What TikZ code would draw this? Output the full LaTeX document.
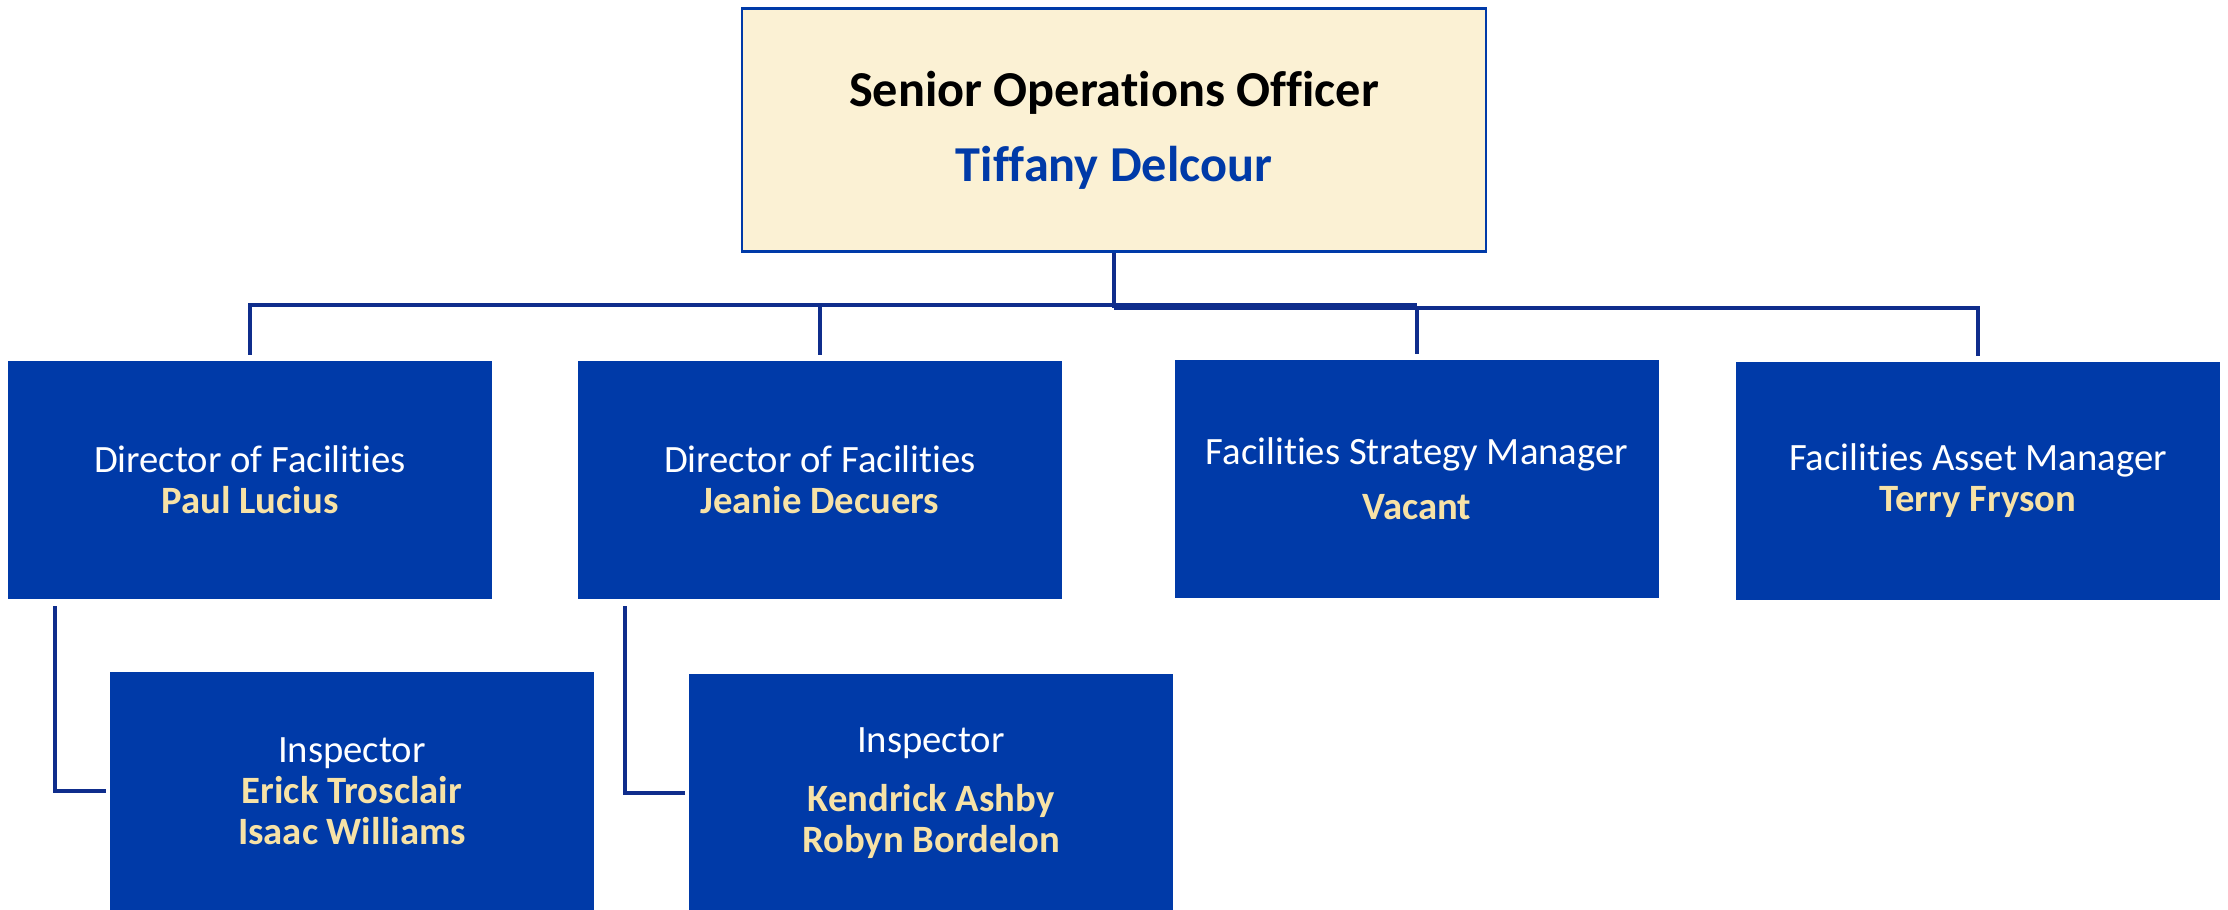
\documentclass[tikz,border=0pt]{standalone}
\usepackage{fontspec}
\setmainfont{Carlito}[RawFeature=-liga]
\usepackage{xcolor}
\usetikzlibrary{calc, positioning}

\definecolor{orgblue}{HTML}{003AA8}
\definecolor{namecream}{HTML}{F7E2A6}
\definecolor{topfill}{HTML}{FBF1D4}
\definecolor{linkblue}{HTML}{0F2D8C}

\tikzset{
    topbox/.style={draw=orgblue, line width=0.7pt, fill=topfill, minimum width=7.44cm, minimum height=2.43cm, align=center, inner sep=0pt},
    unitbox/.style={fill=orgblue, text=white, minimum width=4.83cm, minimum height=2.37cm, align=center, inner sep=0pt, font=\fontsize{11}{11.7}\selectfont},
    link/.style={draw=linkblue, line width=1.1pt}
}

\begin{document}
\begin{tikzpicture}[x=0.01cm, y=-0.01cm]
    \useasboundingbox (0,0) rectangle (2228,909);
    % Top of the chart
    \node[topbox] (top) at (1114,130) {\fontsize{14.3}{17}\selectfont\bfseries Senior Operations Officer\\[8pt]
        \fontsize{14.3}{17}\selectfont\bfseries\color{orgblue} Tiffany Delcour};
    % Second level
    \node[unitbox] (d1) at (250,480) {Director of Facilities\\ \textbf{\color{namecream}Paul Lucius}};
    \node[unitbox] (d2) at (820,480) {Director of Facilities\\ \textbf{\color{namecream}Jeanie Decuers}};
    \node[unitbox] (d3) at (1417,479) {Facilities Strategy Manager\\[4pt] \textbf{\color{namecream}Vacant}};
    \node[unitbox] (d4) at (1978,481) {Facilities Asset Manager\\ \textbf{\color{namecream}Terry Fryson}};
    % Third level
    \node[unitbox] (i1) at (352,791) {Inspector\\ \textbf{\color{namecream}Erick Trosclair}\\ \textbf{\color{namecream}Isaac Williams}};
    \node[unitbox] (i2) at (931,793) {Inspector\\[5pt] \textbf{\color{namecream}Kendrick Ashby}\\ \textbf{\color{namecream}Robyn Bordelon}};
    % Bus lines
    \coordinate (busL) at (1114,305);
    \coordinate (busR) at (1114,308);
    \draw[link] (top.south) -- (busR);
    \draw[link, shorten >=0.06cm] (busL) -| (d1.north);
    \draw[link, shorten >=0.06cm] (busL) -| (d2.north);
    \draw[link] (busL) -- (d3.north |- busL);
    \draw[link, shorten >=0.06cm] (busR) -| (d3.north);
    \draw[link, shorten >=0.06cm] (busR) -| (d4.north);
    % Inspectors
    \draw[link, shorten <=0.07cm, shorten >=0.04cm] ([xshift=0.47cm]d1.south west) |- (i1.west);
    \draw[link, shorten <=0.07cm, shorten >=0.04cm] ([xshift=0.47cm]d2.south west) |- (i2.west);
\end{tikzpicture}
\end{document}
